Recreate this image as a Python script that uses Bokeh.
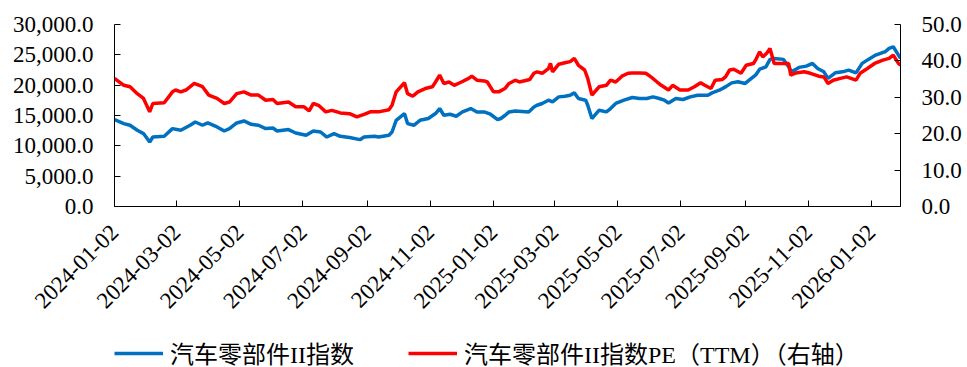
import math
import pandas as pd
from bokeh.plotting import figure
from bokeh.layouts import column
from bokeh.models import (LinearAxis, Range1d, NumeralTickFormatter, FixedTicker,
                          DatetimeTickFormatter, Legend, LegendItem)
from bokeh.embed import file_html
from bokeh.resources import INLINE

IDX_DATES = [
    "2024-01-02", "2024-01-11", "2024-01-17", "2024-01-24", "2024-01-30", "2024-02-05", "2024-02-08",
    "2024-02-19", "2024-02-27", "2024-03-06", "2024-03-15", "2024-03-20", "2024-03-27", "2024-04-01",
    "2024-04-10", "2024-04-17", "2024-04-22", "2024-04-29", "2024-05-06", "2024-05-13", "2024-05-20",
    "2024-05-27", "2024-06-03", "2024-06-07", "2024-06-18", "2024-06-25", "2024-07-05", "2024-07-12",
    "2024-07-19", "2024-07-25", "2024-08-01", "2024-08-07", "2024-08-16", "2024-08-26", "2024-08-30",
    "2024-09-09", "2024-09-13", "2024-09-23", "2024-09-26", "2024-09-30", "2024-10-08", "2024-10-11",
    "2024-10-17", "2024-10-23", "2024-10-31", "2024-11-07", "2024-11-11", "2024-11-15", "2024-11-21",
    "2024-11-27", "2024-12-03", "2024-12-11", "2024-12-17", "2024-12-24", "2024-12-30", "2025-01-06",
    "2025-01-09", "2025-01-13", "2025-01-17", "2025-01-23", "2025-02-05", "2025-02-10", "2025-02-13",
    "2025-02-18", "2025-02-24", "2025-02-28", "2025-03-06", "2025-03-12", "2025-03-17", "2025-03-21",
    "2025-03-25", "2025-04-01", "2025-04-03", "2025-04-07", "2025-04-14", "2025-04-21", "2025-04-25",
    "2025-04-30", "2025-05-08", "2025-05-16", "2025-05-23", "2025-05-30", "2025-06-05", "2025-06-11",
    "2025-06-16", "2025-06-20", "2025-06-27", "2025-07-04", "2025-07-11", "2025-07-18", "2025-07-28",
    "2025-08-01", "2025-08-08", "2025-08-14", "2025-08-20", "2025-08-26", "2025-09-02", "2025-09-08",
    "2025-09-12", "2025-09-16", "2025-09-22", "2025-09-26", "2025-09-30", "2025-10-09", "2025-10-14",
    "2025-10-17", "2025-10-24", "2025-10-31", "2025-11-06", "2025-11-11", "2025-11-17", "2025-11-21",
    "2025-11-28", "2025-12-05", "2025-12-11", "2025-12-18", "2025-12-24", "2025-12-30", "2026-01-06",
    "2026-01-12", "2026-01-15", "2026-01-19", "2026-01-23", "2026-01-27", "2026-01-30",
]
IDX_VALUES = [
    14330, 13670, 13390, 12560, 12020, 10630, 11450,
    11570, 12840, 12560, 13390, 13930, 13390, 13770,
    13110, 12450, 12840, 13770, 14100, 13550, 13390,
    12840, 12940, 12450, 12680, 12120, 11740, 12450,
    12280, 11450, 12020, 11570, 11360, 11020, 11450,
    11570, 11450, 11740, 12280, 14210, 15320, 13670,
    13390, 14210, 14500, 15320, 16150, 15040, 15210,
    14880, 15590, 16150, 15590, 15590, 15210, 14330,
    14500, 15000, 15590, 15750, 15590, 16410, 16690,
    16980, 17520, 17240, 18070, 18180, 18350, 18730,
    17800, 17520, 16690, 14500, 15870, 15590, 16150,
    16980, 17520, 17970, 17800, 17800, 18070, 17800,
    17520, 17070, 17800, 17640, 18070, 18350, 18350,
    18730, 19170, 19720, 20380, 20550, 20280, 21110,
    21650, 22640, 23020, 24250, 24410, 24250, 23020,
    22200, 22930, 23140, 23590, 22760, 22200, 21110,
    22030, 22200, 22480, 22030, 23590, 24250, 24960,
    25340, 25500, 26070, 26330, 25240, 24410,
]

PE_DATES = [
    "2024-01-02", "2024-01-11", "2024-01-17", "2024-01-24", "2024-01-30", "2024-02-05", "2024-02-08",
    "2024-02-19", "2024-02-27", "2024-03-01", "2024-03-06", "2024-03-11", "2024-03-19", "2024-03-27",
    "2024-04-02", "2024-04-10", "2024-04-17", "2024-04-22", "2024-04-29", "2024-05-06", "2024-05-13",
    "2024-05-20", "2024-05-27", "2024-06-03", "2024-06-07", "2024-06-18", "2024-06-25", "2024-07-03",
    "2024-07-08", "2024-07-12", "2024-07-17", "2024-07-24", "2024-07-30", "2024-08-07", "2024-08-16",
    "2024-08-23", "2024-08-30", "2024-09-05", "2024-09-09", "2024-09-13", "2024-09-23", "2024-09-26",
    "2024-09-30", "2024-10-08", "2024-10-11", "2024-10-16", "2024-10-21", "2024-10-28", "2024-11-04",
    "2024-11-07", "2024-11-11", "2024-11-15", "2024-11-20", "2024-11-25", "2024-12-02", "2024-12-09",
    "2024-12-12", "2024-12-17", "2024-12-24", "2024-12-27", "2025-01-02", "2025-01-07", "2025-01-13",
    "2025-01-17", "2025-01-23", "2025-01-27", "2025-02-06", "2025-02-10", "2025-02-13", "2025-02-18",
    "2025-02-24", "2025-02-26", "2025-02-28", "2025-03-06", "2025-03-12", "2025-03-17", "2025-03-21",
    "2025-03-25", "2025-03-31", "2025-04-03", "2025-04-07", "2025-04-14", "2025-04-21", "2025-04-25",
    "2025-04-30", "2025-05-06", "2025-05-12", "2025-05-16", "2025-05-23", "2025-05-29", "2025-06-03",
    "2025-06-09", "2025-06-13", "2025-06-20", "2025-06-24", "2025-07-01", "2025-07-09", "2025-07-15",
    "2025-07-21", "2025-07-25", "2025-07-31", "2025-08-04", "2025-08-11", "2025-08-14", "2025-08-18",
    "2025-08-22", "2025-08-29", "2025-09-03", "2025-09-10", "2025-09-12", "2025-09-16", "2025-09-19",
    "2025-09-23", "2025-09-26", "2025-09-30", "2025-10-09", "2025-10-14", "2025-10-16", "2025-10-21",
    "2025-10-29", "2025-11-04", "2025-11-12", "2025-11-17", "2025-11-21", "2025-11-26", "2025-12-03",
    "2025-12-09", "2025-12-18", "2025-12-22", "2025-12-29", "2026-01-05", "2026-01-13", "2026-01-19",
    "2026-01-23", "2026-01-28", "2026-01-30",
]
PE_VALUES = [
    35.2, 33.3, 32.9, 31.0, 29.7, 26.0, 28.3,
    28.5, 31.5, 32.0, 31.5, 32.0, 33.8, 32.9,
    30.6, 29.7, 28.3, 28.7, 31.0, 31.5, 30.6,
    30.6, 29.2, 29.4, 28.3, 28.7, 27.4, 27.4,
    26.3, 28.3, 27.8, 26.0, 26.4, 25.7, 25.5,
    24.6, 25.3, 26.0, 26.0, 26.0, 26.6, 27.8,
    31.5, 34.0, 31.0, 30.3, 31.5, 32.4, 32.9,
    34.2, 36.1, 33.8, 34.2, 33.3, 34.2, 35.2,
    35.8, 34.7, 34.5, 34.2, 31.5, 31.5, 32.4,
    33.8, 34.7, 34.2, 34.9, 36.6, 37.0, 36.6,
    37.9, 39.3, 37.0, 39.1, 39.5, 39.8, 40.7,
    38.8, 37.5, 35.2, 30.6, 32.9, 33.3, 34.7,
    34.2, 35.8, 36.6, 36.7, 36.7, 36.6, 35.6,
    34.2, 33.3, 32.0, 33.3, 32.0, 32.0, 32.9,
    34.0, 33.3, 32.4, 34.7, 34.9, 35.6, 37.5,
    37.7, 36.6, 38.8, 39.3, 40.2, 42.5, 41.1,
    42.2, 43.4, 39.3, 39.3, 39.3, 36.1, 36.7,
    37.0, 36.6, 35.8, 35.6, 33.8, 34.7, 35.2,
    35.6, 34.7, 36.6, 37.9, 39.3, 40.2, 40.7,
    41.6, 39.3, 38.8,
]

TICK_DATES = [
    "2024-01-02", "2024-03-02", "2024-05-02", "2024-07-02", "2024-09-02", "2024-11-02",
    "2025-01-02", "2025-03-02", "2025-05-02", "2025-07-02", "2025-09-02", "2025-11-02",
    "2026-01-02",
]
LEFT_TICKS = [0, 5000, 10000, 15000, 20000, 25000, 30000]
RIGHT_TICKS = [0, 10, 20, 30, 40, 50]
LABEL_IDX = "汽车零部件II指数"
LABEL_PE = "汽车零部件II指数PE（TTM）（右轴）"

BLUE = "#0070C0"
RED = "#FF0000"
LW = 3.5
FONT = "Liberation Serif, 'Times New Roman', 'Noto Sans CJK SC', serif"
FSIZE = "23px"

idx_x = pd.to_datetime(IDX_DATES)
pe_x = pd.to_datetime(PE_DATES)
tick_ms = [t.timestamp() * 1000 for t in pd.to_datetime(TICK_DATES)]

# ---------------- main chart ----------------
p = figure(width=967, height=335, x_axis_type="datetime",
           output_backend="svg", toolbar_location=None,
           x_range=Range1d(idx_x[0], idx_x[-1]),
           y_range=Range1d(LEFT_TICKS[0], LEFT_TICKS[-1]))
p.extra_y_ranges = {"pe": Range1d(RIGHT_TICKS[0], RIGHT_TICKS[-1])}

p.min_border_left = 114
p.min_border_right = 67
p.min_border_top = 24
p.min_border_bottom = 129
p.outline_line_color = None
p.xgrid.visible = False
p.ygrid.visible = False
p.background_fill_color = "white"
p.border_fill_color = "white"

r_idx = p.line(idx_x, IDX_VALUES, line_color=BLUE, line_width=LW)
r_pe = p.line(pe_x, PE_VALUES, line_color=RED, line_width=LW, y_range_name="pe")

right = LinearAxis(y_range_name="pe")
p.add_layout(right, "right")

for ax in [p.yaxis[0], right]:
    ax.major_label_text_font = FONT
    ax.major_label_text_font_size = FSIZE
    ax.major_label_text_color = "black"
    ax.axis_line_color = "black"
    ax.major_tick_line_color = "black"
    ax.major_tick_in = 6
    ax.major_tick_out = 0
    ax.minor_tick_line_color = None
    ax.major_label_standoff = 21

p.yaxis[0].ticker = FixedTicker(ticks=LEFT_TICKS)
p.yaxis[0].formatter = NumeralTickFormatter(format="0,0.0")
right.ticker = FixedTicker(ticks=RIGHT_TICKS)
right.formatter = NumeralTickFormatter(format="0.0")

xa = p.xaxis[0]
xa.ticker = FixedTicker(ticks=tick_ms)
fmt = "%Y-%m-%d"
xa.formatter = DatetimeTickFormatter(milliseconds=fmt, seconds=fmt, minsec=fmt, minutes=fmt,
                                     hourmin=fmt, hours=fmt, days=fmt, months=fmt, years=fmt)
xa.major_label_orientation = math.pi / 4
xa.major_label_text_font = FONT
xa.major_label_text_font_size = FSIZE
xa.major_label_text_color = "black"
xa.axis_line_color = "black"
xa.major_tick_line_color = "black"
xa.major_tick_in = 6
xa.major_tick_out = 0
xa.minor_tick_line_color = None
xa.major_label_standoff = 22

# ---------------- legend strip (same series, view range keeps lines out of sight) ----------------
lg = figure(width=967, height=32, x_axis_type="datetime",
            output_backend="svg", toolbar_location=None,
            x_range=Range1d(idx_x[0], idx_x[-1]), y_range=Range1d(-2, -1),
            x_axis_location=None, y_axis_location=None, min_border=0)
lg.outline_line_color = None
lg.xgrid.visible = False
lg.ygrid.visible = False
lg.background_fill_color = "white"
lg.border_fill_color = "white"
k_idx = lg.line(idx_x, IDX_VALUES, line_color=BLUE, line_width=LW)
k_pe = lg.line(pe_x, PE_VALUES, line_color=RED, line_width=LW)

legend = Legend(items=[LegendItem(label=LABEL_IDX, renderers=[k_idx]),
                       LegendItem(label=LABEL_PE, renderers=[k_pe])],
                orientation="horizontal", location=(0, -3))
legend.label_text_font = FONT
legend.label_text_font_size = "24px"
legend.label_text_color = "black"
legend.glyph_width = 49
legend.glyph_height = 24
legend.label_height = 24
legend.label_standoff = 7
legend.spacing = 54
legend.padding = 0
legend.margin = 0
legend.border_line_color = None
legend.background_fill_alpha = 0
lg.add_layout(legend, "center")

layout = column(p, lg, spacing=0)
open("out.html", "w").write(file_html(layout, INLINE))
